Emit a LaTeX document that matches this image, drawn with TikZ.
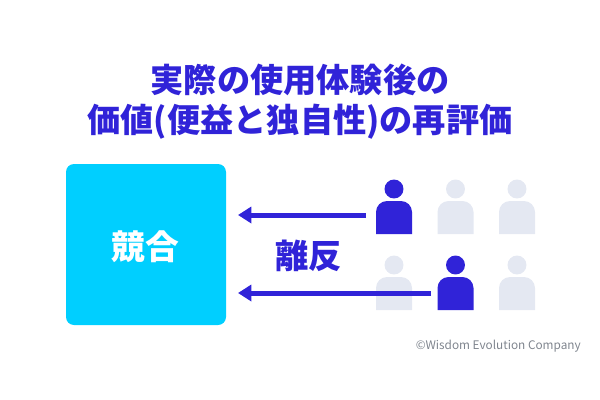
\documentclass[tikz,border=0pt]{standalone}
\usepackage{fontspec}
\usetikzlibrary{arrows.meta}
\setmainfont{Noto Sans CJK JP}
\newfontfamily\jpb{Noto Sans CJK JP Black}
\definecolor{ink}{HTML}{3023D8}
\definecolor{pale}{HTML}{E4E8F2}
\definecolor{cyanbox}{HTML}{00CFFF}
\definecolor{credit}{HTML}{7F858E}
\tikzset{
  title/.style={text=ink,font=\jpb\fontsize{24.9pt}{30pt}\selectfont,inner sep=0pt,anchor=center},
  boxstyle/.style={fill=cyanbox,rounded corners=6pt,minimum width=120pt,minimum height=120.75pt,inner sep=0pt,text=white,text depth=0pt},
  flow/.style={draw=ink,line width=3.75pt,-{Triangle[length=10pt,width=12pt]}},
  hub/.style={inner sep=0pt,minimum width=27pt,minimum height=24.75pt},
}
\newcommand{\person}[4]{% name, x, y(head centre), colour
  \fill[#4] (#2,#3) circle[radius=7.1pt];
  \fill[#4] (#2-18,#3+45) -- (#2-18,#3+23) arc[start angle=180,end angle=90,radius=8.25pt]
     -- (#2+7,#3+12) arc[start angle=90,end angle=0,radius=8.25pt] -- (#2+18,#3+45) -- cycle;
  \node[hub] (#1) at (#2,#3+28.5) {};
}
\begin{document}
\begin{tikzpicture}[x=0.75pt,y=-0.75pt]
\useasboundingbox (0,0) rectangle (600,400);
\node[title] (t1) at (300,80) {実際の使用体験後の};
\node[title] (t2) at (300,122) {価値(便益と独自性)の再評価};
\node[boxstyle] (box) at (146,244.5) {};
\node[text=white,font=\jpb\fontsize{25.3pt}{28pt}\selectfont,inner sep=0pt] (boxlabel) at (145,247) {競合};
\person{a1}{394}{189}{ink}
\person{a2}{455.5}{189}{pale}
\person{a3}{517}{189}{pale}
\person{b1}{394}{265}{pale}
\person{b3}{517}{265}{pale}
\person{b2}{455.5}{265}{ink}
\coordinate (e1) at (238,215);
\coordinate (e2) at (238,293);
\coordinate (s1) at (366,215);
\coordinate (s2) at (431,293);
\draw[flow] (s1) -- (e1);
\draw[flow] (s2) -- (e2);
\node[text=ink,font=\jpb\fontsize{25pt}{28pt}\selectfont,inner sep=0pt] (rihan) at (308.5,256) {離反};
\node[text=credit,font=\fontsize{8.85pt}{10pt}\selectfont,inner sep=0pt,anchor=east] (cr) at (581,346) {©Wisdom Evolution Company};
\end{tikzpicture}
\end{document}
